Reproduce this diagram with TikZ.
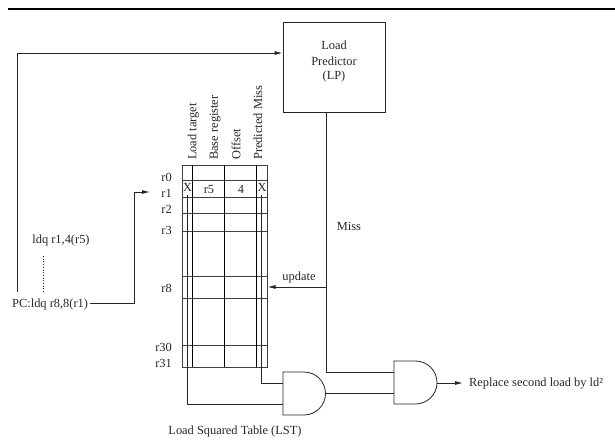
\documentclass[tikz,border=0pt]{standalone}
\usepackage{fontspec}
\setmainfont{Liberation Serif}
\usetikzlibrary{arrows.meta}
\tikzset{
  lab/.style={font=\fontsize{12.4}{14}\selectfont,inner sep=0pt,text=black!85},
  reglab/.style={lab,anchor=east},
  vlab/.style={lab,rotate=90,anchor=west},
  wire/.style={line width=0.9pt,draw=black!85},
  grid/.style={line width=0.9pt,draw=black!75},
  gatebody/.style={line width=0.8pt,draw=black!85},
  arr/.style={wire,-{Latex[length=8pt,width=4pt]}},
  box/.style={draw=black!85,line width=0.9pt,inner sep=0pt}
}
\begin{document}
\begin{tikzpicture}[x=1pt,y=-1pt]
\useasboundingbox (0,0) rectangle (615,441);
\draw[line width=2pt] (8,9) -- (615,9);
% load predictor
\node[box,minimum width=102pt,minimum height=90pt] (lp) at (334,67) {};
\node[lab] (lp1) at (334,45) {Load};
\node[lab] (lp2) at (334,61) {Predictor};
\node[lab] (lp3) at (334,77) {(LP)};
% table
\draw[grid] (182,165) rectangle (267,367);
\foreach \y in {180,197,213,231,276,298,345}{\draw[grid] (182,\y) -- (267,\y);}
\foreach \x in {192.5,224.5,256}{\draw[grid,draw=black] (\x,165) -- (\x,367);}
% headers
\node[vlab] (h1) at (193.5,160) {Load target};
\node[vlab] (h2) at (215,160) {Base register};
\node[vlab] (h3) at (236,160) {Offset};
\node[vlab] (h4) at (258,160) {Predicted Miss};
% registers
\node[reglab] (r0) at (172,177) {r0};
\node[reglab] (r1) at (172,193) {r1};
\node[reglab] (r2) at (172,209) {r2};
\node[reglab] (r3) at (172,230) {r3};
\node[reglab] (r8) at (172,288) {r8};
\node[reglab] (r30) at (172,347) {r30};
\node[reglab] (r31) at (172,363) {r31};
% cells
\node[lab] (x1) at (187.5,187) {X};
\node[lab] (c5) at (209,189) {r5};
\node[lab] (c4) at (241,189) {4};
\node[lab] (x2) at (262,187) {X};
% gates
\coordinate (g1a) at (283,383);
\coordinate (g1b) at (283,404);
\coordinate (g1o) at (326,393.5);
\coordinate (g2a) at (394,372);
\coordinate (g2b) at (394,393.5);
\coordinate (g2o) at (437,383);
\draw[gatebody] (283,372) -- (304,372) arc[start angle=90,end angle=-90,radius=21.5pt] -- (283,415) -- cycle;
\draw[gatebody] (394,361) -- (415.5,361) arc[start angle=90,end angle=-90,radius=21.5pt] -- (394,404) -- cycle;
% wires
\coordinate (x1s) at (187.5,195);
\coordinate (x2s) at (261.5,195);
\draw[wire] (x1s) -- (187.5,404) -- (g1b);
\draw[wire] (x2s) -- (261.5,383) -- (g1a);
\draw[wire] (g1o) -- (g2b);
\draw[wire] (lp.south -| g1o) -- (g2a -| g1o) -- (g2a);
\coordinate (outend) at (463,383);
\draw[arr] (g2o) -- (outend);
\node[lab,anchor=west] (out) at (469,384) {Replace second load by ld²};
\coordinate (updj) at (326,287);
\coordinate (updt) at (267.5,287);
\draw[arr] (updj) -- (updt);
\node[lab] (upd) at (299,278) {update};
\node[lab] (miss) at (349,226) {Miss};
% program
\coordinate (s1) at (17,292);
\draw[arr] (s1) -- (17,53) -- (lp.west |- 0,53);
\node[lab,anchor=west] (pc) at (12,305) {PC:ldq r8,8(r1)};
\coordinate (pa) at (134,192);
\draw[arr] (pc.east) ++(2,-2) -- (134,303) -- (pa) -- (150,192);
\node[lab] (ld) at (61,241) {ldq r1,4(r5)};
\draw[wire,line width=0.7pt,dotted] (43.5,256) -- (43.5,292);
\node[lab] (lst) at (235,432) {Load Squared Table (LST)};
\end{tikzpicture}
\end{document}
